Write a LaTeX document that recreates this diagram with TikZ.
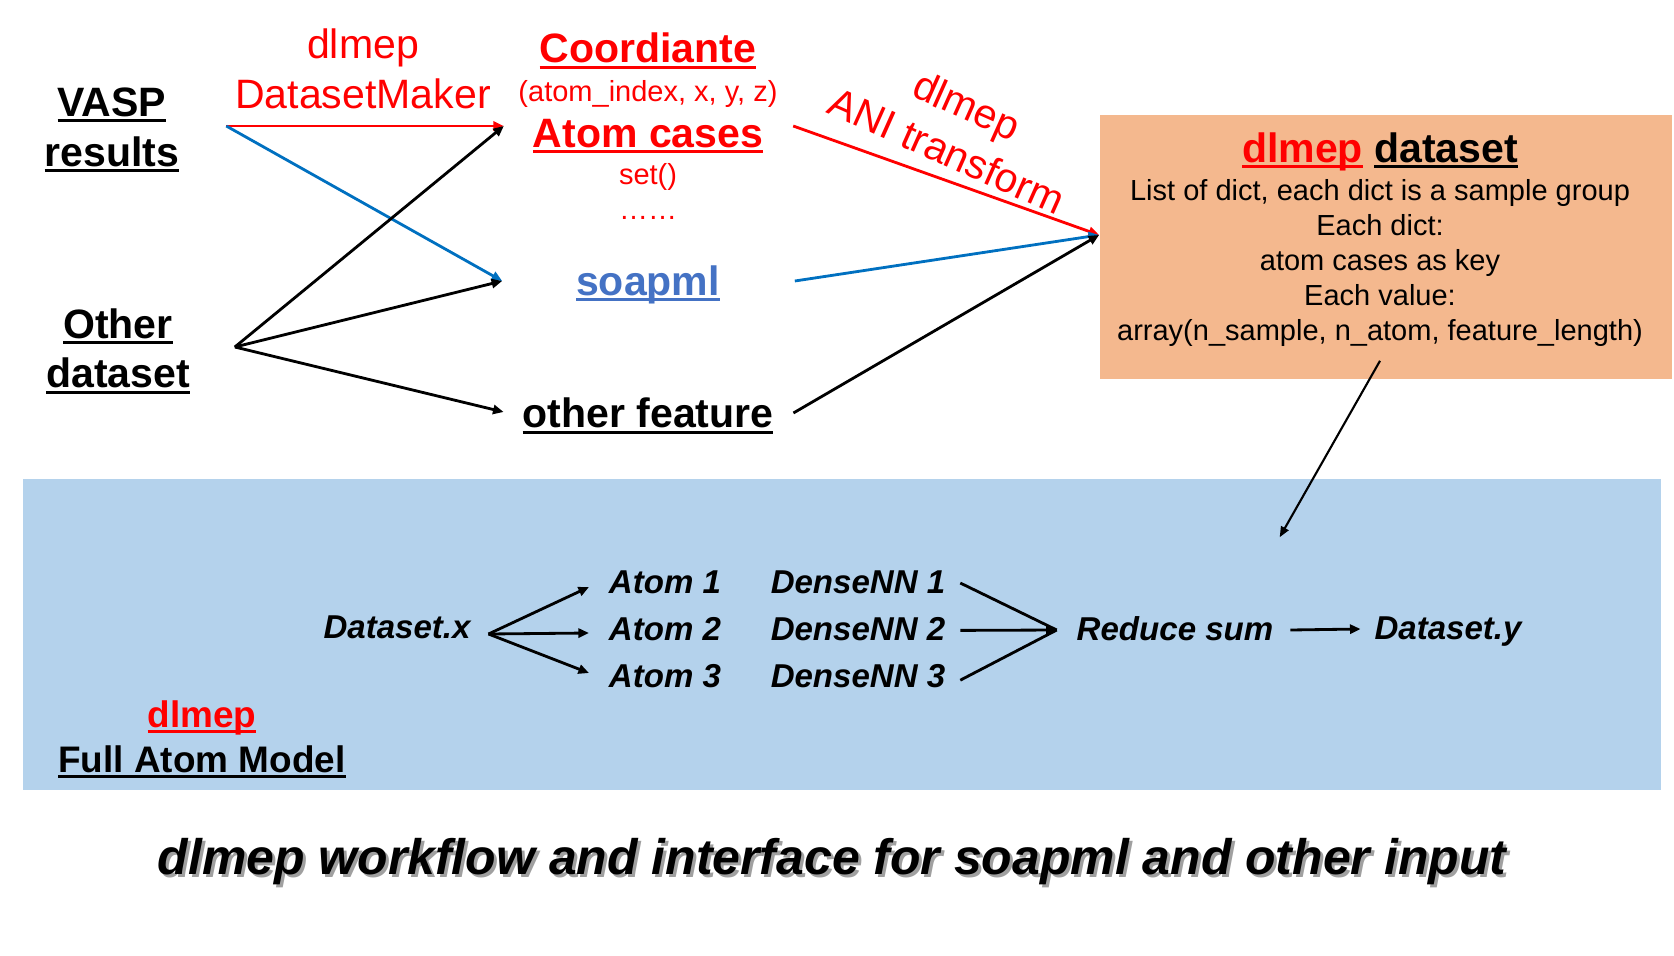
\documentclass[tikz,border=0pt]{standalone}
\usepackage{fontspec}
\setmainfont{Liberation Sans}
\usetikzlibrary{calc, arrows.meta, positioning}
\definecolor{pptRed}{HTML}{FF0000}
\definecolor{dsOrange}{HTML}{F4B88E}
\definecolor{mdlBlue}{HTML}{B4D2EC}
\definecolor{soapBlue}{HTML}{4472C4}
\definecolor{arrBlue}{HTML}{0070C0}
\definecolor{ttlShadow}{HTML}{A0A0A0}
\newcommand{\uln}[1]{\setbox0\hbox{#1}\rlap{\vrule height -0.07em depth 0.14em width \wd0}\box0}
\newcommand{\fBig}{\fontsize{11.67}{14.2}\selectfont}
\newcommand{\fSmall}{\fontsize{8.25}{9.96}\selectfont}
\newcommand{\fMid}{\fontsize{9.4}{12.5}\selectfont}
\newcommand{\fLbl}{\fontsize{10.5}{12.8}\selectfont}
\newcommand{\fTtl}{\fontsize{14.2}{17}\selectfont}
\tikzset{
    txt/.style={inner sep=0pt, outer sep=0pt, align=center},
    arr/.style={-{Triangle[length=3pt,width=2.6pt]}, line width=0.8pt},
    ln/.style={line width=0.8pt},
    mdl/.style={txt, font=\fMid\bfseries\itshape}
}
\begin{document}
\begin{tikzpicture}[x=0.01cm, y=-0.01cm]
    \useasboundingbox (0,0) rectangle (1674,955);
    % boxes
    \node[fill=dsOrange, minimum width=5.72cm, minimum height=2.64cm, inner sep=0pt] (nBox) at (1386,247) {};
    \node[fill=mdlBlue, minimum width=16.37cm, minimum height=3.11cm, inner sep=0pt] (nModel) at (842,634.5) {};
    % sources
    \node[txt, font=\fBig\bfseries] (nVasp) at (112,130) {\uln{VASP}\\\uln{results}};
    \node[txt, font=\fBig\bfseries] (nOther) at (118,351) {\uln{Other}\\\uln{dataset}};
    \node[txt, font=\fBig, text=pptRed] (nMaker) at (363,69) {dlmep\\DatasetMaker};
    % features
    \node[txt, font=\fBig\bfseries, text=pptRed] (nCoord) at (648,51) {\uln{Coordiante}};
    \node[txt, font=\fSmall, text=pptRed] (nIdx) at (648,94) {(atom\_index, x, y, z)};
    \node[txt, font=\fBig\bfseries, text=pptRed] (nCases) at (648,136) {\uln{Atom cases}};
    \node[txt, font=\fSmall, text=pptRed] (nSet) at (648,177) {set()};
    \node[txt, font=\fSmall, text=pptRed] (nDots) at (648,218) {……};
    \node[txt, font=\fBig\bfseries, text=soapBlue] (nSoap) at (648,285) {\uln{soapml}};
    \node[txt, font=\fBig\bfseries] (nFeat) at (648,416) {\uln{other feature}};
    \node[txt, font=\fBig, text=pptRed, rotate=-24] (nAni) at (957,128) {dlmep\\ANI transform};
    % dataset box text
    \node[txt, font=\fBig\bfseries] (nBoxTitle) at (1380,152) {{\color{pptRed}\uln{dlmep}} \uln{dataset}};
    \node[txt, font=\fSmall] (nBoxBody) at (1380,263) {List of dict, each dict is a sample group\\Each dict:\\atom cases as key\\Each value:\\array(n\_sample, n\_atom, feature\_length)};
    % connection points
    \coordinate (cVaspOut) at ($(nVasp.east)+(47,-4)$);
    \coordinate (cOtherOut) at ($(nOther.east)+(45,-4)$);
    \coordinate (cCasesIn) at ($(nCases.west)+(-29,-10)$);
    \coordinate (cSoapIn) at ($(nSoap.west)+(-74,-4)$);
    \coordinate (cFeatIn) at ($(nFeat.west)+(-19,-4)$);
    \coordinate (cBoxIn) at ($(nBox.west)+(0,-12)$);
    \draw[arr, pptRed] (cVaspOut) -- (cCasesIn);
    \draw[arr, arrBlue] (cVaspOut) -- (cSoapIn);
    \foreach \v in {cCasesIn, cSoapIn, cFeatIn}
    {
        \draw[arr] (cOtherOut) -- (\v);
    };
    \draw[arr, pptRed] ($(nCases.east)+(30,-10)$) -- (cBoxIn);
    \draw[arr, arrBlue] ($(nSoap.east)+(75,-4)$) -- (cBoxIn);
    \draw[arr] ($(nFeat.east)+(20,-3)$) -- (cBoxIn);
    \draw[-{Triangle[length=3pt,width=2.4pt]}, line width=0.6pt] ($(nBox.south)+(-6,-19)$) -- ($(nModel.north east)+(-382,59)$);
    % full atom model
    \node[mdl] (nDsx) at (397,627) {Dataset.x};
    \node[mdl] (nReduce) at (1175,629) {Reduce sum};
    \node[mdl] (nDsy) at (1448,632) {Dataset.y};
    \coordinate (cSplit) at ($(nDsx.east)+(18,7)$);
    \coordinate (cMerge) at ($(nReduce.west)+(-20,1)$);
    \foreach \i/\y/\d/\s in {1/582/5/ln, 2/629/4/arr, 3/676/-3/ln}
    {
        \node[mdl] (nAtom\i) at (665,\y) {Atom \i};
        \node[mdl] (nDense\i) at (858,\y) {DenseNN \i};
        \draw[arr] (cSplit) -- ($(nAtom\i.west)+(-20,\d)$);
        \draw[\s] ($(nDense\i.east)+(15,{\d*-0.4+3})$) -- (cMerge);
    };
    \draw[arr] ($(nReduce.east)+(17,1)$) -- ($(nDsy.west)+(-14,-3)$);
    \node[txt, font=\fLbl\bfseries, text=pptRed] (nMdlTag) at (202,718) {\uln{dlmep}};
    \node[txt, font=\fLbl\bfseries] (nMdlName) at (202,762) {\uln{Full Atom Model}};
    % title
    \node[txt, font=\fTtl\bfseries\itshape, text=ttlShadow] (nTitleShadow) at (835,865) {dlmep workflow and interface for soapml and other input};
    \node[txt, font=\fTtl\bfseries\itshape] (nTitle) at (832,862) {dlmep workflow and interface for soapml and other input};
\end{tikzpicture}
\end{document}
